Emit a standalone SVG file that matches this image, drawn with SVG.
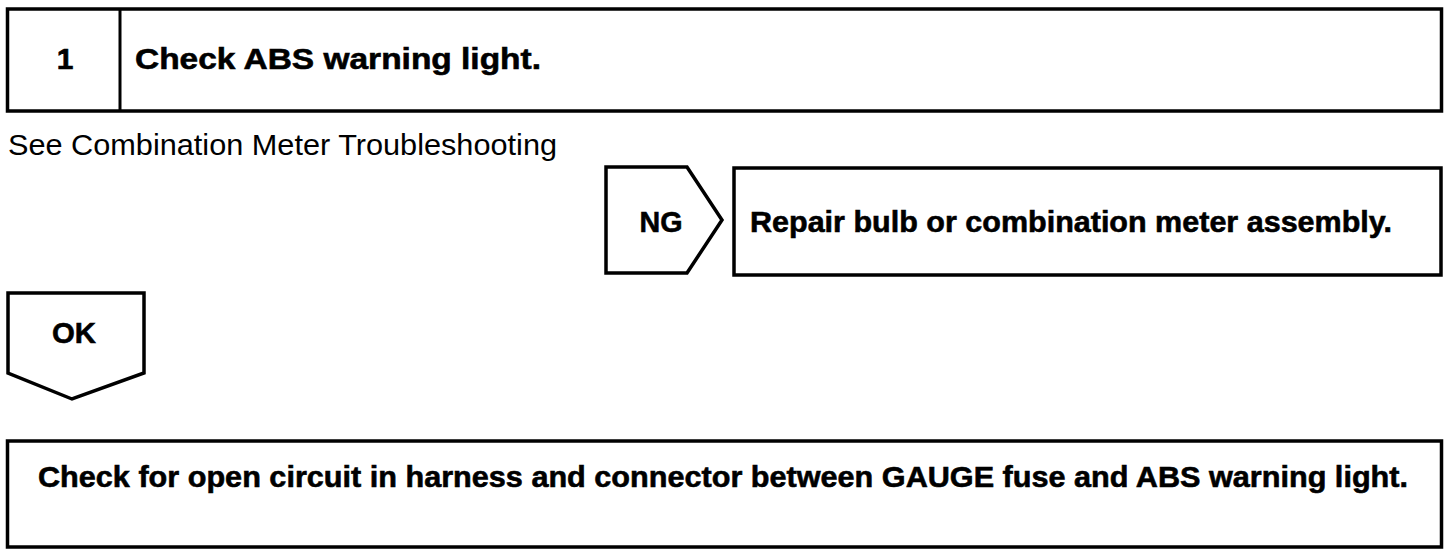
<svg xmlns="http://www.w3.org/2000/svg" width="1456" height="556" viewBox="0 0 1456 556">
<style>
.box{fill:#fff;stroke:#000;stroke-width:3.5}
.b{font-family:"Liberation Sans",Arial,sans-serif;font-weight:bold;font-size:30px;fill:#000;stroke:#000;stroke-width:0.6}
.r{font-family:"Liberation Sans",Arial,sans-serif;font-size:30px;fill:#000}
</style>
<rect width="1456" height="556" fill="#fff"/>
<g id="step1">
<rect class="box" x="7.5" y="9" width="1434" height="102"/>
<line x1="120" y1="9" x2="120" y2="111" stroke="#000" stroke-width="3"/>
<text class="b" x="65" y="69" text-anchor="middle">1</text>
<text class="b" x="135" y="69" textLength="406" lengthAdjust="spacingAndGlyphs">Check ABS warning light.</text>
</g>
<g id="note">
<text class="r" x="8" y="155" textLength="549" lengthAdjust="spacingAndGlyphs">See Combination Meter Troubleshooting</text>
</g>
<g id="connectors">
<g id="ng">
<polygon class="box" points="606,167 687,167 722,220 687,273 606,273"/>
<text class="b" x="661" y="232" text-anchor="middle" textLength="43" lengthAdjust="spacingAndGlyphs">NG</text>
</g>
<g id="ok">
<polygon class="box" points="8,293 144,293 144,373 72,399 8,373"/>
<text class="b" x="74" y="343" text-anchor="middle" textLength="44" lengthAdjust="spacingAndGlyphs">OK</text>
</g>
</g>
<g id="repair">
<rect class="box" x="734" y="168" width="707" height="107"/>
<text class="b" x="750" y="232" textLength="642" lengthAdjust="spacingAndGlyphs">Repair bulb or combination meter assembly.</text>
</g>
<g id="step2">
<rect class="box" x="7.5" y="441" width="1434" height="106"/>
<text class="b" x="38" y="487" textLength="1370" lengthAdjust="spacingAndGlyphs">Check for open circuit in harness and connector between GAUGE fuse and ABS warning light.</text>
</g>
</svg>
